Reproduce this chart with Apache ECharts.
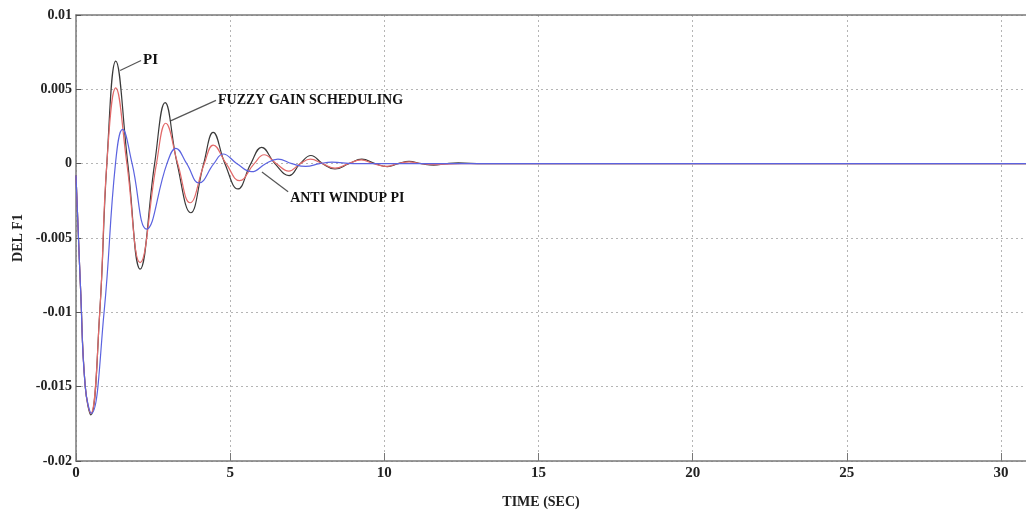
<!DOCTYPE html>
<html>
<head>
<meta charset="utf-8">
<script src="https://cdn.jsdelivr.net/npm/echarts@6/dist/echarts.min.js"></script>
<style>
  html, body { margin: 0; padding: 0; background: #fff; }
  #chart { width: 1026px; height: 514px; }
</style>
</head>
<body>
<div id="chart"></div>
<script>
// time (s) and DEL F1 values, one pair of arrays per controller
var piT = [0, 0.15, 0.3, 0.48, 0.77, 1.0, 1.29, 1.68, 2.08, 2.55, 2.89, 3.28, 3.72, 4.14, 4.45, 4.83, 5.25, 5.67, 6.02, 6.45, 6.91, 7.27, 7.62, 8.0, 8.4, 8.85, 9.27, 9.7, 10.1, 10.45, 10.8, 11.2, 11.6, 12.0, 12.4, 13.2, 31];
var piV = [-0.0008, -0.0085, -0.015, -0.0169, -0.01, 0, 0.0069, 0, -0.0071, 0, 0.0041, 0, -0.0033, 0, 0.0021, 0, -0.0017, 0, 0.0011, 0, -0.0008, 0, 0.00055, 0, -0.00036, 0, 0.0003, 0, -0.0002, 0, 0.00015, 0, -0.0001, 0, 0.00005, 0, 0];

var fuzzyT = [0, 0.15, 0.3, 0.48, 0.77, 1.0, 1.29, 1.65, 2.08, 2.61, 2.91, 3.3, 3.7, 4.16, 4.45, 4.87, 5.3, 5.78, 6.1, 6.5, 6.9, 7.27, 7.6, 8.0, 8.4, 8.83, 9.25, 9.65, 10.05, 10.43, 10.8, 11.2, 11.6, 12.5, 31];
var fuzzyV = [-0.0008, -0.0085, -0.015, -0.0168, -0.01, 0, 0.0051, 0, -0.00665, 0, 0.00272, 0, -0.00263, 0, 0.00125, 0, -0.00114, 0, 0.0006, 0, -0.0005, 0, 0.0003, 0, -0.0003, 0, 0.00025, 0, -0.00018, 0, 0.00012, 0, -0.00006, 0, 0];

var awT = [0, 0.15, 0.3, 0.5, 0.91, 1.28, 1.51, 1.82, 2.29, 2.95, 3.24, 3.59, 3.99, 4.47, 4.77, 5.22, 5.7, 6.15, 6.55, 7.0, 7.45, 7.9, 8.3, 9.0, 31];
var awV = [-0.0008, -0.0085, -0.015, -0.0168, -0.01, 0, 0.0023, 0, -0.0044, 0, 0.00103, 0, -0.0013, 0, 0.00065, 0, -0.00054, 0, 0.0003, 0, -0.00018, 0, 0.0001, 0, 0];

var yTicks = [-0.02, -0.015, -0.01, -0.005, 0, 0.005, 0.01];
var xTicks = [0, 5, 10, 15, 20, 25, 30];

// callouts: leader line from -> to, text placed just after "to" (data coords)
var notes = [
    { text: 'PI', from: [1.43, 0.00627], to: [2.11, 0.00694], size: 15 },
    { text: 'FUZZY GAIN SCHEDULING', from: [3.05, 0.00286], to: [4.54, 0.00426], size: 14 },
    { text: 'ANTI WINDUP PI', from: [6.03, -0.00056], to: [6.88, -0.00189], size: 14, dy: 7 }
];

function pairs(t, v) {
    var out = [];
    for (var i = 0; i < t.length; i++) out.push([t[i], v[i]]);
    return out;
}

var font = 'Liberation Serif';
var frame = { show: true, onZero: false, lineStyle: { color: '#7a7a7a', width: 1.5 } };
var grid = { color: '#b5b5b5', type: [2, 3], width: 1 };
var chart = echarts.init(document.getElementById('chart'));

chart.setOption({
    animation: false,
    grid: { left: 76, top: 15, right: 0, bottom: 51 },
    xAxis: [
        {
            type: 'value',
            min: xTicks[0], max: 30.81, interval: 5,
            name: 'TIME (SEC)',
            nameLocation: 'middle',
            nameGap: 34,
            nameTextStyle: { fontFamily: font, fontWeight: 'bold', fontSize: 14, color: '#222', padding: [0, 20, 0, 0] },
            axisLine: frame,
            axisTick: { inside: true, length: 8, lineStyle: { color: '#777' } },
            axisLabel: {
                fontFamily: font, fontWeight: 'bold', fontSize: 15, color: '#222', margin: 5,
                showMaxLabel: false,
                formatter: function (v) { return xTicks.indexOf(v) >= 0 ? String(v) : ''; }
            },
            splitLine: { show: true, lineStyle: grid }
        },
        {
            // top edge of the frame only
            type: 'value', position: 'top',
            min: xTicks[0], max: 30.81,
            axisLine: frame,
            axisTick: { show: false },
            axisLabel: { show: false },
            splitLine: { show: false }
        }
    ],
    yAxis: {
        type: 'value',
        min: yTicks[0], max: yTicks[yTicks.length - 1], interval: 0.005,
        name: 'DEL F1',
        nameLocation: 'middle',
        nameGap: 49,
        nameRotate: 90,
        nameTextStyle: { fontFamily: font, fontWeight: 'bold', fontSize: 14, color: '#222' },
        axisLine: frame,
        axisTick: { inside: true, length: 5, lineStyle: { color: '#555' } },
        axisLabel: { fontFamily: font, fontWeight: 'bold', fontSize: 14, color: '#222', margin: 4 },
        splitLine: { show: true, lineStyle: grid }
    },
    series: [
        {
            name: 'PI', type: 'line', smooth: 0.45, symbol: 'none',
            lineStyle: { color: '#3a3a3a', width: 1.2 },
            data: pairs(piT, piV)
        },
        {
            name: 'FUZZY GAIN SCHEDULING', type: 'line', smooth: 0.45, symbol: 'none',
            lineStyle: { color: '#e26a6a', width: 1.2 },
            data: pairs(fuzzyT, fuzzyV)
        },
        {
            name: 'ANTI WINDUP PI', type: 'line', smooth: 0.45, symbol: 'none',
            lineStyle: { color: '#5b63e0', width: 1.2 },
            data: pairs(awT, awV)
        }
    ]
});

var elements = [];
notes.forEach(function (n) {
    var a = chart.convertToPixel({ gridIndex: 0 }, n.from);
    var b = chart.convertToPixel({ gridIndex: 0 }, n.to);
    elements.push({
        type: 'line',
        shape: { x1: a[0], y1: a[1], x2: b[0], y2: b[1] },
        style: { stroke: '#555', lineWidth: 1.2 }
    });
    elements.push({
        type: 'text',
        x: b[0] + 2, y: b[1] + (n.dy || 0),
        style: {
            text: n.text, fill: '#111',
            font: 'bold ' + n.size + 'px "' + font + '"',
            textAlign: 'left', textVerticalAlign: 'middle'
        }
    });
});
chart.setOption({ graphic: elements });
</script>
</body>
</html>
